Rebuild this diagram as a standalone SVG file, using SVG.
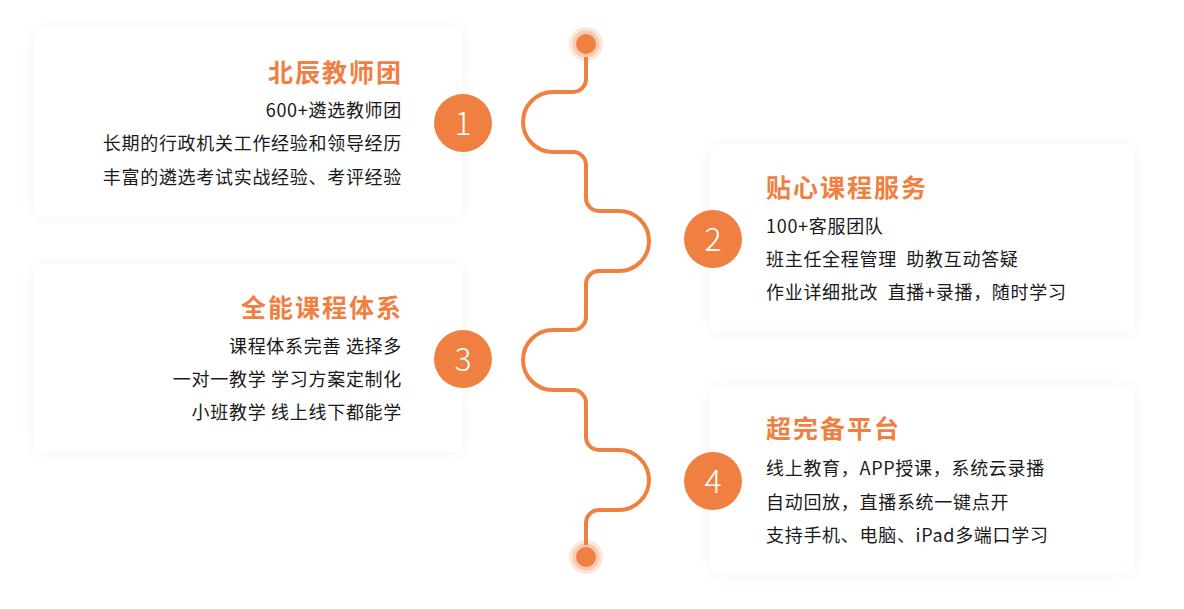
<svg xmlns="http://www.w3.org/2000/svg" width="1184" height="609" viewBox="0 0 1184 609">
<defs>
<filter id="sh" x="-10%" y="-15%" width="120%" height="130%">
<feDropShadow dx="0" dy="0" stdDeviation="4" flood-color="#F07F42" flood-opacity="0.14"/>
</filter>
</defs>
<style>
.card{fill:#ffffff;filter:url(#sh)}
.title{font-family:"Noto Sans CJK SC","Noto Sans",sans-serif;font-weight:700;font-size:25px;fill:#F07F42;letter-spacing:2px}
.body{font-family:"Noto Sans CJK SC","Noto Sans",sans-serif;font-size:18px;fill:#1a1a1a;letter-spacing:0.7px;white-space:pre}
.num{fill:#F07F42}
.numt{font-family:"Noto Sans CJK SC","Noto Sans",sans-serif;font-weight:300;font-size:32px;fill:#ffffff;text-anchor:middle}
.end{text-anchor:end}
.line{fill:none;stroke:#F07F42;stroke-width:4}
</style>
<rect width="1184" height="609" fill="#ffffff"/>
<g id="connectors">
<path class="line" d="M586 57 V79 A13 13 0 0 1 573 92 H553 A30 30 0 0 0 553 152 H573 A13 13 0 0 1 586 165 V198 A13 13 0 0 0 599 211 H619 A30 30 0 0 1 619 271 H599 A13 13 0 0 0 586 284 V317 A13 13 0 0 1 573 330 H553 A30 30 0 0 0 553 390 H573 A13 13 0 0 1 586 403 V437 A13 13 0 0 0 599 450 H619 A30 30 0 0 1 619 510 H599 A13 13 0 0 0 586 523 V545"/>
</g>
<g id="dot-top">
<circle cx="586" cy="44" r="17" fill="#F07F42" opacity="0.2"/>
<circle cx="586" cy="44" r="13.5" fill="#F07F42" opacity="0.25"/>
<circle cx="586" cy="44" r="10" fill="#F07F42"/>
</g>
<g id="dot-bottom">
<circle cx="586" cy="557" r="17" fill="#F07F42" opacity="0.2"/>
<circle cx="586" cy="557" r="13.5" fill="#F07F42" opacity="0.25"/>
<circle cx="586" cy="557" r="10" fill="#F07F42"/>
</g>
<g id="card1">
<rect class="card" x="34" y="28" width="429" height="189" rx="10"/>
<text class="title end" x="403" y="82">北辰教师团</text>
<text class="body end" x="402" y="117">600+遴选教师团</text>
<text class="body end" x="402" y="150">长期的行政机关工作经验和领导经历</text>
<text class="body end" x="402" y="184">丰富的遴选考试实战经验、考评经验</text>
</g>
<g id="card3">
<rect class="card" x="34" y="264" width="429" height="189" rx="10"/>
<text class="title end" x="403" y="317">全能课程体系</text>
<text class="body end" x="402" y="353">课程体系完善 选择多</text>
<text class="body end" x="402" y="386">一对一教学 学习方案定制化</text>
<text class="body end" x="402" y="419">小班教学 线上线下都能学</text>
</g>
<g id="card2">
<rect class="card" x="709" y="144" width="426" height="189" rx="10"/>
<text class="title" x="766" y="197">贴心课程服务</text>
<text class="body" x="766" y="233">100+客服团队</text>
<text class="body" x="766" y="266">班主任全程管理  助教互动答疑</text>
<text class="body" x="766" y="299">作业详细批改  直播+录播，随时学习</text>
</g>
<g id="card4">
<rect class="card" x="709" y="386" width="426" height="188" rx="10"/>
<text class="title" x="766" y="438">超完备平台</text>
<text class="body" x="766" y="475">线上教育，APP授课，系统云录播</text>
<text class="body" x="766" y="509">自动回放，直播系统一键点开</text>
<text class="body" x="766" y="542">支持手机、电脑、iPad多端口学习</text>
</g>
<g id="badge1"><circle class="num" cx="463" cy="123" r="29"/><text class="numt" x="463" y="135">1</text></g>
<g id="badge2"><circle class="num" cx="713" cy="239" r="29"/><text class="numt" x="713" y="251">2</text></g>
<g id="badge3"><circle class="num" cx="463" cy="359" r="29"/><text class="numt" x="463" y="371">3</text></g>
<g id="badge4"><circle class="num" cx="713" cy="481" r="29"/><text class="numt" x="713" y="493">4</text></g>
</svg>
